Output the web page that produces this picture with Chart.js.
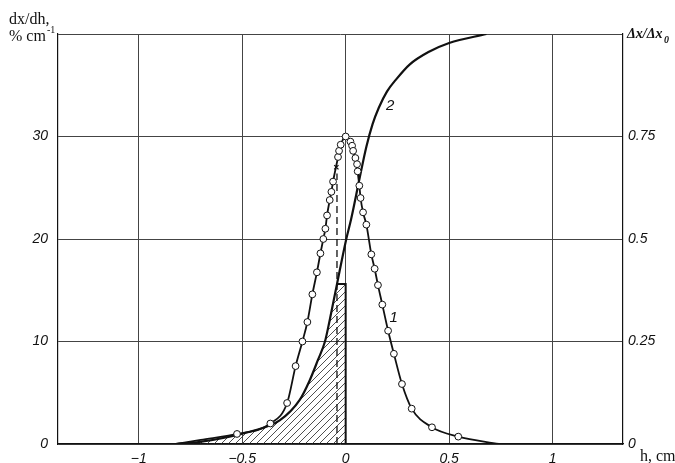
<!DOCTYPE html>
<html>
<head>
<meta charset="utf-8">
<script src="https://cdn.jsdelivr.net/npm/chart.js@4.4.0/dist/chart.umd.min.js"></script>
<style>
  body { margin: 0; background: #fff; }
  #wrap { width: 675px; height: 463px; }
</style>
</head>
<body>
<div id="wrap"><canvas id="chart" width="675" height="463"></canvas></div>
<script>
// curve 1: dx/dh, % cm^-1 (first two and last point are the drawn tails, no circle)
const curve1H = [-0.82, -0.70, -0.525, -0.364, -0.283, -0.242, -0.209, -0.185, -0.161, -0.139, -0.122, -0.108,
  -0.098, -0.09, -0.077, -0.069, -0.061, -0.037, -0.032, -0.024, 0, 0.023, 0.031, 0.036, 0.047, 0.055, 0.058,
  0.066, 0.072, 0.084, 0.1, 0.124, 0.14, 0.156, 0.177, 0.205, 0.233, 0.272, 0.319, 0.417, 0.544, 0.74];
const curve1Y = [0, 0.4, 0.98, 2.0, 4.0, 7.6, 10.0, 11.9, 14.6, 16.75, 18.6, 20.0,
  21.0, 22.3, 23.8, 24.6, 25.6, 28.0, 28.6, 29.2, 30.0, 29.5, 29.1, 28.6, 27.9, 27.3, 26.6,
  25.2, 24.0, 22.6, 21.4, 18.5, 17.1, 15.5, 13.6, 11.05, 8.8, 5.85, 3.45, 1.63, 0.72, 0];

// curve 2: cumulative, delta x / delta x0 (right axis)
const curve2H = [-0.82, -0.705, -0.464, -0.319, -0.222, -0.174, -0.134, -0.1, -0.077, -0.042, 0.003, 0.027,
  0.068, 0.1, 0.13, 0.16, 0.2, 0.245, 0.31, 0.4, 0.5, 0.68];
const curve2Y = [0, 0.005, 0.03, 0.0575, 0.1075, 0.155, 0.205, 0.25, 0.3025, 0.39, 0.5, 0.55,
  0.65, 0.725, 0.78, 0.82, 0.86, 0.89, 0.926, 0.956, 0.978, 1.0];

// hatched block between the dashed line and h = 0
const stepH = [-0.042, 0, 0];
const stepY = [0.39, 0.39, 0];

// dashed marker line and the cross on curve 1
const dashH = [-0.042, -0.042];
const dashY = [0, 26.4];
const crossH = [-0.045];
const crossY = [27.0];

const xTicks = [-1, -0.5, 0, 0.5, 1];
const xTickLabels = ['\u22121', '\u22120.5', '0', '0.5', '1'];
const yTicks = [0, 10, 20, 30, 40];
const yTickLabels = ['0', '10', '20', '30', ''];
const y2Ticks = [0, 0.25, 0.5, 0.75, 1];
const y2TickLabels = ['0', '0.25', '0.5', '0.75', ''];

const pts = (xs, ys) => xs.map((x, i) => ({ x: x, y: ys[i] }));

function hatchPattern() {
    const c = document.createElement('canvas');
    c.width = 7; c.height = 7;
    const g = c.getContext('2d');
    g.strokeStyle = '#222';
    g.lineWidth = 0.8;
    g.beginPath();
    g.moveTo(0, 7); g.lineTo(7, 0);
    g.moveTo(-1, 1); g.lineTo(1, -1);
    g.moveTo(6, 8); g.lineTo(8, 6);
    g.stroke();
    return document.getElementById('chart').getContext('2d').createPattern(c, 'repeat');
}
const hatch = hatchPattern();

// part of curve 2 that lies under the hatching
const hatchIdx = curve2H.map((h, i) => i).filter(i => curve2H[i] <= -0.042);
const hatchH = hatchIdx.map(i => curve2H[i]);
const hatchY = hatchIdx.map(i => curve2Y[i]);

const last1 = curve1H.length - 1;
const tickFont = { family: "'Liberation Sans Narrow', 'Liberation Sans', sans-serif", size: 14, style: 'italic' };
const gridColor = '#444';

const textPlugin = {
    id: 'texts',
    afterDraw(chart) {
        const c = chart.ctx;
        const x = chart.scales.x, y = chart.scales.y;
        c.save();
        c.fillStyle = '#111';
        c.textBaseline = 'alphabetic';
        c.font = '16px "Liberation Serif", serif';
        c.fillText('dx/dh,', 9, 24);
        c.fillText('% cm', 9, 41);
        c.font = '10px "Liberation Serif", serif';
        c.fillText('-1', 47, 33);
        c.font = '16px "Liberation Serif", serif';
        c.fillText('h, cm', 640, 461);
        c.font = 'italic bold 14px "Liberation Serif", serif';
        c.fillText('\u0394x/\u0394x', 627, 38);
        c.font = 'italic bold 10px "Liberation Serif", serif';
        c.fillText('0', 664, 43);
        c.font = 'italic 15px "Liberation Sans Narrow", "Liberation Sans", sans-serif';
        c.textAlign = 'center';
        c.fillText('1', x.getPixelForValue(0.232), y.getPixelForValue(11.9));
        c.fillText('2', x.getPixelForValue(0.215), y.getPixelForValue(32.6));
        c.restore();
    }
};

new Chart(document.getElementById('chart'), {
    type: 'scatter',
    data: {
        datasets: [
            {
                label: 'curve 1',
                data: pts(curve1H, curve1Y),
                yAxisID: 'y',
                showLine: true,
                borderColor: '#111',
                borderWidth: 1.8,
                cubicInterpolationMode: 'monotone',
                pointRadius: ctx => (ctx.dataIndex < 2 || ctx.dataIndex === last1) ? 0 : 3.4,
                pointBackgroundColor: '#fff',
                pointBorderColor: '#111',
                pointBorderWidth: 1,
                order: 1
            },
            {
                label: 'cross',
                data: pts(crossH, crossY),
                yAxisID: 'y',
                pointStyle: 'crossRot',
                pointRadius: 3,
                borderColor: '#111',
                pointBorderWidth: 1.3,
                order: 0
            },
            {
                label: 'curve 2',
                data: pts(curve2H, curve2Y),
                yAxisID: 'y2',
                showLine: true,
                borderColor: '#111',
                borderWidth: 2.2,
                cubicInterpolationMode: 'monotone',
                pointRadius: 0,
                order: 2
            },
            {
                label: 'dashed',
                data: pts(dashH, dashY),
                yAxisID: 'y',
                showLine: true,
                borderColor: '#111',
                borderWidth: 1.3,
                borderDash: [7, 4],
                pointRadius: 0,
                order: 3
            },
            {
                label: 'step',
                data: pts(stepH, stepY),
                yAxisID: 'y2',
                showLine: true,
                borderColor: '#111',
                borderWidth: 2,
                backgroundColor: hatch,
                fill: 'origin',
                pointRadius: 0,
                order: 4
            },
            {
                label: 'hatch',
                data: pts(hatchH, hatchY),
                yAxisID: 'y2',
                showLine: true,
                borderWidth: 0,
                borderColor: 'rgba(0,0,0,0)',
                backgroundColor: hatch,
                fill: 'origin',
                cubicInterpolationMode: 'monotone',
                pointRadius: 0,
                order: 5
            }
        ]
    },
    options: {
        responsive: false,
        animation: false,
        layout: { padding: { top: 34, left: 0, right: 0, bottom: 0 } },
        plugins: { legend: { display: false }, tooltip: { enabled: false } },
        scales: {
            x: {
                type: 'linear',
                min: -1.39,
                max: 1.34,
                afterBuildTicks: s => { s.ticks = xTicks.map(v => ({ value: v })); },
                afterFit: s => { s.height = 19; },
                ticks: {
                    font: tickFont,
                    color: '#111',
                    padding: 7,
                    maxRotation: 0,
                    callback: v => xTickLabels[xTicks.indexOf(v)]
                },
                grid: { color: gridColor, lineWidth: 1, drawTicks: false },
                border: { color: '#111', width: 1.2 }
            },
            y: {
                position: 'left',
                min: 0,
                max: 40,
                afterBuildTicks: s => { s.ticks = yTicks.map(v => ({ value: v })); },
                afterFit: s => { s.width = 58; },
                ticks: {
                    font: tickFont,
                    color: '#111',
                    padding: 10,
                    callback: v => yTickLabels[yTicks.indexOf(v)]
                },
                grid: { color: gridColor, lineWidth: 1, drawTicks: false },
                border: { color: '#111', width: 1.2 }
            },
            y2: {
                position: 'right',
                min: 0,
                max: 1,
                afterBuildTicks: s => { s.ticks = y2Ticks.map(v => ({ value: v })); },
                afterFit: s => { s.width = 52; },
                ticks: {
                    font: tickFont,
                    color: '#111',
                    padding: 5,
                    callback: v => y2TickLabels[y2Ticks.indexOf(v)]
                },
                grid: { display: false, drawTicks: false },
                border: { color: '#111', width: 1.2 }
            }
        }
    },
    plugins: [textPlugin]
});
</script>
</body>
</html>
